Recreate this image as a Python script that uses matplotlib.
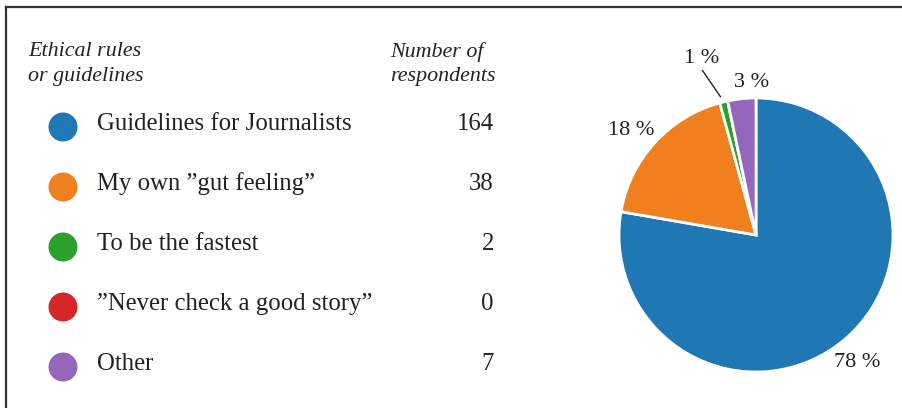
import numpy as np
import matplotlib.pyplot as plt
from matplotlib.lines import Line2D
from matplotlib.patches import Circle

# survey answers
categories = ["Guidelines for Journalists", "My own \u201dgut feeling\u201d", "To be the fastest",
              "\u201dNever check a good story\u201d", "Other"]
counts = [164, 38, 2, 0, 7]
colors = ["#1f77b4", "#f07f1e", "#2ca02c", "#d62728", "#9467bd"]

W, H = 903, 408
plt.rcParams['font.family'] = ['Liberation Serif', 'DejaVu Serif']

fig = plt.figure(figsize=(W / 100, H / 100), dpi=100)

# left half: legend table, drawn in pixel coordinates (y down)
ax = fig.add_axes([0, 0, 1, 1])
ax.set_xlim(0, W)
ax.set_ylim(H, 0)
ax.axis('off')

# frame (only top and left edges show)
ax.add_line(Line2D([6, 6], [7, H], color='#333333', lw=1.6))
ax.add_line(Line2D([6, W], [7, 7], color='#333333', lw=1.6))

hdr = dict(style='italic', fontsize=15.8, va='center', color='#222222')
ax.text(28, 52, "Ethical rules", **hdr)
ax.text(28, 76, "or guidelines", **hdr)
ax.text(390, 52, "Number of", **hdr)
ax.text(390, 76, "respondents", **hdr)

row_y = 127
for name, n, c in zip(categories, counts, colors):
    ax.add_patch(Circle((63, row_y), 14.5, color=c, ec='none'))
    ax.text(97, row_y - 3, name, fontsize=17.8, va='center', color='#222222')
    ax.text(494, row_y - 3, str(n), fontsize=17.8, va='center', ha='right', color='#222222')
    row_y += 60

# right half: pie chart
R = 137
cx, cy = 756, 235
half = 160
pax = fig.add_axes([(cx - half) / W, (H - cy - half) / H, 2 * half / W, 2 * half / H])
total = sum(counts)
wedges, _ = pax.pie(counts, colors=colors, startangle=90, counterclock=False,
                    wedgeprops=dict(edgecolor='white', linewidth=2))
lim = half / R
pax.set_xlim(-lim, lim)
pax.set_ylim(-lim, lim)
pax.set_aspect('equal')
pax.axis('off')

pct = [round(100 * n / total) for n in counts]
# label spots in pie units (radius = 1)
label_xy = {0: (0.74, -0.93), 1: (-0.91, 0.76), 2: (-0.40, 1.29), 4: (-0.03, 1.11)}
for i, (lx, ly) in label_xy.items():
    pax.text(lx, ly, f"{pct[i]} %", fontsize=16, ha='center', va='center', color='#222222')

# leader line for the thin green slice
pax.plot([-0.39, -0.26], [1.20, 1.01], color='#222222', lw=1.0, clip_on=False)

fig.savefig("out.png", dpi=100)
